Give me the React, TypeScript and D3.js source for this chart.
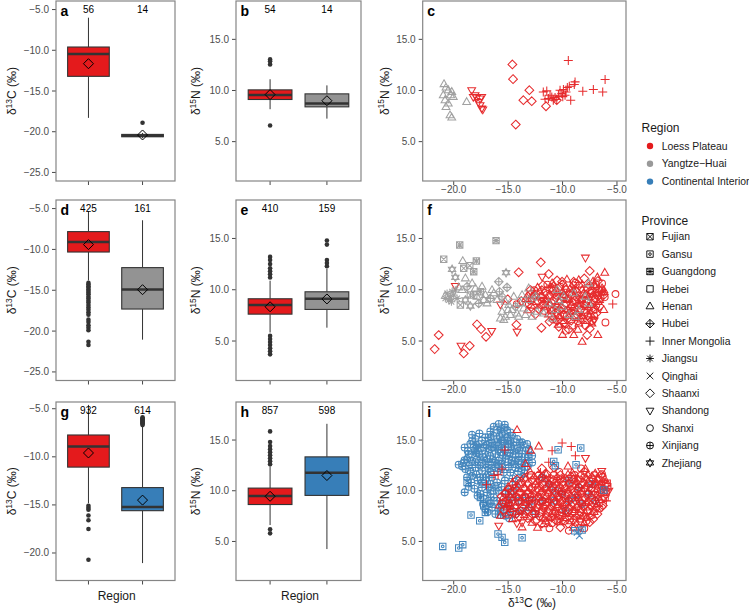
import React from 'react';
import * as d3 from 'd3';

const FONT = '"Liberation Sans", Arial, Helvetica, sans-serif';
const RED = '#E41A1C';
const GRAY = '#999999';
const BOXGRAY = '#939393';
const BLUE = '#377EB8';

// ---------- legend data ----------
const regionLabels = ['Loess Plateau', 'Yangtze\u2212Huai', 'Continental Interior'];
const regionColors = [RED, GRAY, BLUE];
const provinceLabels = ['Fujian', 'Gansu', 'Guangdong', 'Hebei', 'Henan', 'Hubei', 'Inner Mongolia', 'Jiangsu', 'Qinghai', 'Shaanxi', 'Shandong', 'Shanxi', 'Xinjiang', 'Zhejiang'];
const provinceCodes = ['FJ', 'GS', 'GD', 'HB', 'HN', 'HU', 'IM', 'JS', 'QH', 'SX', 'SD', 'SH', 'XJ', 'ZJ'];

// ---------- boxplot data (summary statistics) ----------
const boxGroupsTop = ['Loess Plateau', 'Yangtze-Huai'];
const boxGroupsBottom = ['Loess Plateau', 'Continental Interior'];

const boxA = [
  { n: 56, lo: -18.3, q1: -13.2, med: -10.45, q3: -9.6, hi: -6.0, mean: -11.65, out: [] as number[] },
  { n: 14, lo: -20.8, q1: -20.62, med: -20.48, q3: -20.33, hi: -20.15, mean: -20.4, out: [-18.9] },
];
const boxB = [
  { n: 54, lo: 8.17, q1: 9.12, med: 9.57, q3: 10.06, hi: 11.1, mean: 9.6, out: [13.04, 12.85, 12.55, 6.57] },
  { n: 14, lo: 7.25, q1: 8.4, med: 8.73, q3: 9.67, hi: 10.5, mean: 9.0, out: [] as number[] },
];
const boxD = [
  { n: 425, lo: -13.8, q1: -10.32, med: -9.09, q3: -7.82, hi: -5.3, mean: -9.41,
    out: [-14.1, -14.3, -14.5, -14.7, -14.9, -15.1, -15.3, -15.5, -15.8, -16.0, -16.3, -16.5, -16.8, -17.1, -17.4, -17.7, -18.0, -18.6, -18.9, -19.3, -19.6, -19.9, -21.3, -21.7] },
  { n: 161, lo: -21.05, q1: -17.3, med: -14.9, q3: -12.23, hi: -6.43, mean: -14.93, out: [] as number[] },
];
const boxE = [
  { n: 410, lo: 5.83, q1: 7.62, med: 8.5, q3: 9.12, hi: 10.88, mean: 8.34,
    out: [11.2, 11.5, 11.8, 12.1, 12.5, 12.9, 13.2, 5.5, 5.2, 4.9, 4.6, 4.3, 4.0, 3.7] },
  { n: 159, lo: 6.3, q1: 8.08, med: 9.12, q3: 9.8, hi: 12.05, mean: 9.1, out: [12.3, 12.6, 12.9, 14.4, 14.8] },
];
const boxG = [
  { n: 932, lo: -14.83, q1: -11.07, med: -8.93, q3: -7.73, hi: -4.6, mean: -9.6, out: [-15.1, -15.3, -15.5, -16.1, -16.6, -17.5, -20.7] },
  { n: 614, lo: -21.05, q1: -15.6, med: -15.22, q3: -13.2, hi: -6.83, mean: -14.5, out: [-5.9, -6.0, -6.1, -6.2, -6.3, -6.4, -6.5, -6.6, -6.7] },
];
const boxH = [
  { n: 857, lo: 6.62, q1: 8.64, med: 9.48, q3: 10.26, hi: 12.37, mean: 9.45,
    out: [12.6, 12.9, 13.2, 13.5, 13.8, 14.1, 14.4, 14.8, 15.85, 6.2, 5.8] },
  { n: 598, lo: 4.25, q1: 9.54, med: 11.78, q3: 13.34, hi: 16.6, mean: 11.5, out: [] as number[] },
];

// ---------- scatter data: [province code, d13C, d15N] ----------
type Pt = [string, number, number];

const cYangtze: Pt[] = [
  ['HN', -20.89, 10.62], ['HN', -20.71, 10.29], ['HN', -20.5, 10.03], ['HN', -20.18, 9.86], ['HN', -20.28, 9.54], ['HN', -20.96, 9.54],
  ['HN', -20.8, 9.05], ['HN', -20.5, 8.73], ['HN', -20.71, 8.39], ['HN', -20.34, 7.58], ['HN', -20.18, 7.35], ['HN', -18.81, 8.88], ['HN', -20.04, 9.37],
];
const cLoess: Pt[] = [
  ['SD', -18.35, 10.03], ['SD', -18.04, 9.54], ['SD', -17.89, 9.31], ['SD', -17.58, 9.22], ['SD', -17.74, 8.88], ['SD', -18.2, 9.37],
  ['SD', -17.58, 8.56], ['SD', -17.33, 8.14], ['SD', -17.43, 9.37], ['SD', -17.43, 8.24],
  ['SX', -14.61, 12.55], ['SX', -14.55, 11.11], ['SX', -13.05, 10.03], ['SX', -13.6, 9.05], ['SX', -12.83, 8.95], ['SX', -11.52, 8.46], ['SX', -14.3, 6.67], ['SX', -10.53, 9.05],
  ['IM', -9.47, 12.94], ['IM', -6.09, 11.08], ['IM', -7.17, 10.1], ['IM', -6.31, 9.86], ['IM', -8.14, 9.93], ['IM', -8.92, 10.59], ['IM', -8.85, 10.84],
  ['IM', -9.25, 9.05], ['IM', -11.77, 9.86], ['IM', -11.45, 9.96], ['IM', -11.15, 9.54], ['IM', -11.61, 9.15], ['IM', -10.99, 9.37], ['IM', -10.69, 9.31],
  ['IM', -10.38, 9.54], ['IM', -10.23, 10.03], ['IM', -9.92, 10.1], ['IM', -10.07, 9.7], ['IM', -9.77, 9.54], ['IM', -9.56, 10.29], ['IM', -9.68, 9.86],
  ['IM', -10.53, 9.12], ['IM', -10.85, 9.05], ['IM', -11.3, 9.22], ['IM', -9.98, 9.4], ['IM', -9.38, 10.42],
];

const fLoess: Pt[] = [
  ['SX', -21.38, 5.58], ['SX', -21.75, 4.21], ['SX', -19.08, 3.79], ['SX', -18.53, 4.53], ['SX', -17.86, 6.62], ['SX', -17.49, 6.16], ['SX', -17.03, 5.41],
  ['SX', -14.03, 11.7], ['SX', -12.0, 12.67], ['SX', -11.94, 6.29], ['SX', -11.27, 11.53], ['SX', -15.04, 9.06], ['SX', -14.24, 6.59], ['SX', -7.5, 11.83],
  ['SX', -6.76, 10.85], ['SX', -8.97, 10.78], ['SX', -10.04, 10.78], ['SX', -12.95, 9.97], ['SX', -9.43, 6.13], ['SX', -7.74, 5.58], ['SX', -10.35, 6.39],
  ['SD', -19.85, 10.36], ['SD', -19.33, 4.53], ['SD', -16.51, 5.97], ['SD', -15.71, 8.57], ['SD', -7.9, 13.13], ['SD', -14.18, 5.9], ['SD', -11.88, 11.27],
  ['HN', -6.12, 11.66], ['HN', -8.2, 4.93], ['HN', -8.97, 5.58], ['HN', -6.76, 5.58], ['HN', -10.96, 10.62], ['HN', -9.74, 10.3], ['HN', -8.51, 10.95],
  ['HN', -7.13, 10.46], ['HN', -6.37, 10.13], ['HN', -6.21, 8.02],
  ['SH', -5.14, 9.58], ['SH', -6.12, 9.26], ['SH', -6.06, 6.81], ['SH', -6.37, 10.62], ['IM', -5.39, 8.6],
  ['SX', -10.5, 10.9], ['HN', -9.6, 11.0], ['SH', -8.8, 10.7], ['SX', -8.0, 11.1], ['HN', -7.2, 10.8], ['SH', -11.4, 10.5], ['HN', -6.8, 11.2],
  ['HN', -12.3, 10.2], ['SX', -11.0, 10.2], ['SH', -10.2, 10.3], ['HN', -9.3, 10.1], ['SX', -8.5, 10.4], ['SH', -7.7, 10.2], ['HN', -7.0, 10.3], ['SX', -6.5, 9.9],
  ['SX', -12.9, 9.6], ['HN', -12.1, 9.8], ['SH', -11.6, 9.7], ['SX', -10.8, 9.6], ['HN', -10.0, 9.8], ['SH', -9.4, 9.6], ['SX', -8.7, 9.8], ['HN', -8.1, 9.6],
  ['SH', -7.4, 9.7], ['SX', -6.9, 9.5], ['HN', -6.4, 9.7], ['SH', -11.2, 10.0], ['HN', -9.0, 10.0],
  ['HN', -13.4, 9.1], ['SX', -12.7, 9.2], ['SH', -12.0, 9.3], ['HN', -11.4, 9.1], ['SX', -10.6, 9.2], ['SH', -10.0, 9.3], ['HN', -9.4, 9.1], ['SX', -8.8, 9.3],
  ['SH', -8.2, 9.1], ['HN', -7.6, 9.3], ['SX', -7.0, 9.1], ['SH', -6.5, 9.2], ['SD', -11.8, 8.9],
  ['SH', -13.1, 8.6], ['HN', -12.4, 8.8], ['SX', -11.7, 8.6], ['SH', -11.0, 8.7], ['HN', -10.3, 8.8], ['SX', -9.7, 8.6], ['SH', -9.1, 8.8], ['HN', -8.4, 8.6],
  ['SX', -7.8, 8.8], ['SH', -7.2, 8.6], ['HN', -6.7, 8.8], ['SX', -12.9, 8.3],
  ['SX', -12.2, 8.1], ['HN', -11.5, 8.3], ['SH', -10.8, 8.1], ['SX', -10.1, 8.3], ['HN', -9.5, 8.1], ['SH', -8.9, 8.3], ['SX', -8.3, 8.1], ['HN', -7.6, 8.3],
  ['SH', -7.0, 8.1], ['SX', -6.6, 8.4],
  ['HN', -11.3, 7.6], ['SX', -10.6, 7.8], ['SH', -9.9, 7.6], ['HN', -9.3, 7.8], ['SX', -8.7, 7.6], ['SH', -8.0, 7.8], ['HN', -7.4, 7.6], ['SX', -6.9, 7.7],
  ['SH', -10.9, 7.1], ['HN', -10.2, 7.3], ['SX', -9.6, 7.1], ['SH', -8.9, 7.3], ['HN', -8.3, 7.1], ['SX', -7.6, 7.3], ['SD', -7.1, 7.0],
  ['HN', -10.4, 6.6], ['SX', -9.8, 6.8], ['SH', -9.1, 6.5], ['HN', -8.5, 6.7], ['SX', -7.9, 6.5], ['HN', -7.3, 6.7], ['SX', -11.2, 6.9],
  ['SH', -9.7, 6.0], ['HN', -8.6, 6.1], ['SX', -7.5, 6.2], ['HN', -10.0, 5.6],
  ['SX', -13.8, 8.9], ['SH', -14.2, 8.6], ['HN', -13.2, 8.0], ['SX', -12.5, 7.6],
  ['SX', -10.3, 9.5], ['HN', -9.7, 9.0], ['SH', -9.1, 8.4], ['SX', -8.5, 9.0], ['HN', -7.9, 8.5], ['SH', -10.6, 8.4], ['SX', -9.2, 7.9], ['HN', -8.1, 7.4],
  ['SH', -7.3, 9.9], ['SX', -10.9, 9.9],
  ['SX', -11.8, 10.45], ['HN', -10.8, 10.45], ['SX', -10.0, 10.5], ['SH', -9.0, 10.45], ['HN', -8.2, 10.5], ['SX', -7.5, 10.4], ['SH', -6.9, 10.5],
  ['SH', -12.6, 9.95], ['SX', -11.9, 9.95], ['HN', -10.5, 9.95], ['SX', -9.7, 10.0], ['SH', -8.8, 9.95], ['HN', -8.2, 10.0], ['SX', -7.4, 9.95], ['SH', -6.7, 10.0], ['HN', -6.2, 9.95],
  ['HN', -13.2, 9.45], ['SX', -12.5, 9.45], ['HN', -11.9, 9.5], ['SX', -11.2, 9.45], ['SH', -10.5, 9.45], ['HN', -9.9, 9.5], ['SX', -9.2, 9.45], ['SH', -8.5, 9.45],
  ['HN', -7.9, 9.5], ['SX', -7.2, 9.45], ['SH', -6.7, 9.45], ['SX', -6.2, 9.5],
  ['SX', -13.0, 8.95], ['SH', -12.3, 8.95], ['HN', -11.6, 9.0], ['SX', -10.9, 8.95], ['SH', -10.2, 8.95], ['HN', -9.5, 9.0], ['SX', -8.9, 8.95], ['SH', -8.3, 8.95],
  ['HN', -7.7, 9.0], ['SX', -7.1, 8.95], ['HN', -6.6, 9.0],
  ['HN', -12.6, 8.45], ['SX', -11.9, 8.45], ['SH', -11.2, 8.5], ['HN', -10.5, 8.45], ['SX', -9.8, 8.45], ['HN', -9.2, 8.5], ['SH', -8.6, 8.45], ['SX', -8.0, 8.45],
  ['HN', -7.4, 8.5], ['SH', -6.9, 8.45],
  ['SH', -11.7, 7.95], ['HN', -11.0, 7.95], ['SX', -10.3, 8.0], ['HN', -9.7, 7.95], ['SH', -9.0, 7.95], ['SX', -8.4, 8.0], ['HN', -7.8, 7.95], ['SH', -7.2, 7.95],
  ['SX', -11.0, 7.45], ['HN', -10.3, 7.45], ['SH', -9.6, 7.5], ['SX', -8.9, 7.45], ['HN', -8.3, 7.45], ['SX', -7.7, 7.5], ['SH', -7.1, 7.45],
  ['SX', -10.5, 6.95], ['HN', -9.9, 6.95], ['SX', -9.2, 7.0], ['SH', -8.6, 6.95], ['HN', -7.9, 6.95], ['SX', -7.3, 7.0],
];

const fYangtze: Pt[] = [
  ['GD', -19.45, 14.37], ['GD', -16.11, 14.79], ['FJ', -20.92, 12.97], ['GD', -17.92, 12.8], ['FJ', -19.08, 12.09], ['FJ', -18.53, 12.35], ['GD', -18.16, 11.76],
  ['FJ', -19.39, 8.51], ['GS', -18.16, 9.48], ['ZJ', -20.15, 11.99], ['ZJ', -19.85, 11.21], ['ZJ', -15.19, 11.66], ['ZJ', -18.47, 8.41],
  ['HU', -17.7, 8.67], ['HU', -15.86, 10.78], ['HU', -15.8, 9.81], ['HU', -15.1, 10.23],
  ['HN', -19.17, 12.8], ['HN', -18.93, 11.11], ['HN', -20.77, 9.42], ['HN', -19.54, 10.23], ['HN', -18.31, 10.62], ['HN', -17.4, 10.3], ['HN', -16.94, 8.67],
  ['HN', -16.48, 9.97], ['HN', -15.4, 7.04], ['HN', -15.01, 8.02], ['HN', -14.48, 9.32], ['HN', -13.72, 9.48], ['HN', -13.11, 10.13], ['HN', -12.8, 7.37],
  ['HN', -14.18, 7.69], ['HN', -15.56, 7.85], ['HN', -12.34, 7.85], ['HN', -11.73, 7.69], ['HN', -10.96, 7.2], ['HN', -10.5, 9.97], ['HN', -10.35, 9.0],
  ['HN', -10.66, 8.02], ['HN', -10.04, 8.34], ['HN', -8.97, 9.65], ['HN', -8.51, 8.02], ['HN', -8.82, 7.37], ['HN', -7.9, 9.32], ['HN', -7.59, 8.67],
  ['HN', -9.43, 7.53], ['HN', -7.59, 10.62], ['HN', -11.27, 8.67], ['HN', -9.89, 9.32],
  ['JS', -20.61, 9.65], ['JS', -20.31, 9.32], ['JS', -20.46, 9.0], ['JS', -20.0, 9.48], ['JS', -20.77, 9.16], ['JS', -20.15, 9.81], ['JS', -19.69, 9.16],
  ['JS', -19.85, 9.97], ['JS', -20.21, 8.83],
  ['HN', -19.23, 9.97], ['HU', -18.77, 10.3], ['HN', -18.01, 10.13], ['GD', -17.55, 9.81], ['HN', -17.09, 9.48], ['HU', -16.63, 9.16], ['HN', -16.32, 9.65],
  ['HN', -16.02, 9.0], ['HU', -15.56, 9.32], ['HN', -15.25, 8.83], ['HN', -14.94, 8.51], ['HN', -14.64, 8.02], ['HU', -14.33, 8.34], ['HN', -13.87, 8.67],
  ['HN', -13.57, 8.18], ['HN', -15.25, 7.37], ['HN', -14.79, 7.53], ['HN', -15.71, 7.2], ['HN', -14.03, 7.37], ['HN', -13.41, 7.53], ['HN', -13.11, 9.0],
  ['HU', -12.49, 9.32], ['FJ', -18.47, 9.48], ['HN', -17.86, 9.32], ['ZJ', -18.93, 9.0], ['HN', -17.24, 9.0],
];

const iContinental: Pt[] = [
  ['XJ', -15.86, 16.58], ['XJ', -15.31, 16.51], ['XJ', -16.32, 16.31], ['XJ', -15.62, 16.08], ['XJ', -16.63, 15.85], ['XJ', -15.1, 15.98], ['XJ', -14.79, 15.75],
  ['XJ', -18.31, 15.52], ['XJ', -17.64, 15.65], ['XJ', -18.01, 15.1], ['XJ', -18.47, 14.6], ['XJ', -18.99, 14.27], ['XJ', -18.16, 14.27], ['XJ', -17.7, 14.6],
  ['XJ', -17.4, 13.95], ['XJ', -18.62, 13.62],
  ['XJ', -19.54, 12.56], ['XJ', -19.08, 12.79], ['XJ', -18.77, 13.12], ['XJ', -18.31, 12.96], ['XJ', -17.86, 13.12], ['XJ', -18.93, 12.14], ['XJ', -18.47, 11.97],
  ['XJ', -18.01, 12.3], ['XJ', -17.55, 12.47], ['XJ', -18.77, 11.32], ['XJ', -18.38, 10.82], ['XJ', -18.62, 10.39], ['XJ', -18.99, 9.84], ['XJ', -18.31, 11.48],
  ['XJ', -17.09, 15.26], ['XJ', -16.78, 14.93], ['XJ', -16.32, 15.42], ['XJ', -16.02, 15.1], ['XJ', -15.56, 15.59], ['XJ', -15.1, 15.26], ['XJ', -14.64, 15.42],
  ['XJ', -14.18, 15.1], ['XJ', -13.72, 14.77], ['XJ', -13.26, 14.6], ['XJ', -13.11, 14.11], ['XJ', -13.87, 14.27], ['XJ', -14.49, 14.44], ['XJ', -14.94, 14.6],
  ['XJ', -15.4, 14.77], ['XJ', -15.86, 14.44], ['XJ', -16.32, 14.27], ['XJ', -16.78, 14.11], ['XJ', -17.09, 13.62], ['XJ', -16.63, 13.45], ['XJ', -16.17, 13.62],
  ['XJ', -15.71, 13.78], ['XJ', -15.25, 13.95], ['XJ', -14.79, 13.78], ['XJ', -14.33, 13.62], ['XJ', -13.72, 13.62], ['XJ', -13.11, 13.29], ['XJ', -12.8, 12.79],
  ['XJ', -13.41, 12.79], ['XJ', -14.03, 12.96], ['XJ', -14.64, 12.96], ['XJ', -15.25, 13.12], ['XJ', -15.86, 12.96], ['XJ', -16.48, 12.79], ['XJ', -17.09, 12.63],
  ['XJ', -17.4, 11.97], ['XJ', -16.78, 12.14], ['XJ', -16.17, 12.3], ['XJ', -15.56, 12.3], ['XJ', -14.94, 12.3], ['XJ', -14.33, 12.3], ['XJ', -13.72, 12.14],
  ['XJ', -17.4, 14.93], ['XJ', -17.24, 14.27], ['XJ', -17.7, 13.62], ['XJ', -18.01, 14.11], ['XJ', -16.48, 14.77], ['XJ', -14.79, 14.93], ['XJ', -15.56, 14.27],
  ['XJ', -14.18, 14.11], ['XJ', -15.1, 13.45], ['XJ', -16.02, 12.63], ['XJ', -14.49, 12.63], ['XJ', -13.41, 13.95], ['XJ', -12.8, 13.45],
  ['XJ', -17.55, 11.32], ['XJ', -17.09, 10.99], ['XJ', -16.63, 10.66], ['XJ', -17.4, 10.33], ['XJ', -16.94, 9.84], ['XJ', -17.24, 9.18], ['XJ', -16.78, 9.01],
  ['XJ', -16.48, 8.36], ['XJ', -17.09, 8.19], ['XJ', -16.17, 7.7], ['XJ', -15.71, 8.03], ['XJ', -15.25, 7.53], ['XJ', -14.79, 8.19], ['XJ', -14.33, 7.7],
  ['XJ', -13.72, 8.03], ['XJ', -13.11, 8.36], ['XJ', -12.49, 7.7], ['XJ', -17.55, 9.67], ['XJ', -15.86, 10.0], ['XJ', -15.25, 9.67], ['XJ', -14.64, 9.34],
  ['XJ', -14.03, 9.01], ['XJ', -13.41, 9.34], ['XJ', -12.8, 9.01], ['XJ', -16.32, 9.34], ['XJ', -15.56, 8.69], ['XJ', -14.94, 8.85],
  ['XJ', -17.09, 11.65], ['XJ', -16.48, 11.32], ['XJ', -16.02, 10.82], ['XJ', -16.78, 10.33], ['XJ', -17.4, 10.82], ['XJ', -16.32, 10.0],
  ['XJ', -11.88, 11.32], ['XJ', -11.27, 10.66], ['XJ', -10.66, 10.0], ['XJ', -10.04, 9.67], ['XJ', -9.43, 9.01], ['XJ', -8.82, 9.34], ['XJ', -8.2, 8.69],
  ['XJ', -7.59, 9.67], ['XJ', -6.98, 9.01], ['XJ', -10.81, 9.01], ['XJ', -9.74, 8.03], ['XJ', -8.51, 10.33], ['XJ', -7.29, 10.66], ['XJ', -11.88, 9.01], ['XJ', -9.43, 10.99],
  ['XJ', -16.0, 16.0], ['XJ', -15.3, 16.2], ['XJ', -15.8, 15.4], ['XJ', -16.6, 15.3], ['XJ', -16.0, 14.8], ['XJ', -15.6, 14.95], ['XJ', -15.0, 14.95], ['XJ', -14.5, 14.8],
  ['XJ', -13.9, 14.7], ['XJ', -17.0, 14.5], ['XJ', -16.5, 14.3], ['XJ', -15.9, 14.1], ['XJ', -15.3, 14.3], ['XJ', -14.7, 14.3], ['XJ', -14.0, 13.95], ['XJ', -13.5, 13.3],
  ['XJ', -14.0, 13.4], ['XJ', -14.6, 13.35], ['XJ', -15.5, 13.5], ['XJ', -16.4, 13.1], ['XJ', -16.9, 13.1], ['XJ', -17.3, 13.3], ['XJ', -17.9, 13.7], ['XJ', -18.3, 13.6],
  ['XJ', -18.7, 13.9], ['XJ', -18.3, 14.9], ['XJ', -17.9, 14.5], ['XJ', -19.0, 13.0], ['XJ', -19.2, 12.4], ['XJ', -18.6, 12.5], ['XJ', -18.0, 12.8], ['XJ', -17.4, 12.8],
  ['XJ', -16.8, 12.6], ['XJ', -16.2, 12.8], ['XJ', -15.6, 12.7], ['XJ', -15.0, 12.8], ['XJ', -14.4, 12.9], ['XJ', -13.8, 12.6], ['XJ', -13.2, 12.4], ['XJ', -17.9, 11.6],
  ['XJ', -17.8, 11.0], ['XJ', -17.0, 11.3], ['XJ', -16.6, 11.9], ['XJ', -16.0, 11.9], ['XJ', -15.4, 11.8], ['XJ', -14.8, 11.8], ['XJ', -14.1, 11.9], ['XJ', -13.5, 11.7],
  ['XJ', -18.1, 10.2], ['XJ', -17.8, 9.5], ['XJ', -17.3, 8.7], ['XJ', -16.6, 8.8], ['XJ', -16.6, 9.7], ['XJ', -16.0, 9.0], ['XJ', -15.9, 8.3], ['XJ', -15.4, 8.2],
  ['XJ', -15.6, 10.4], ['XJ', -15.0, 10.2], ['XJ', -14.5, 10.0], ['XJ', -15.3, 11.0], ['XJ', -14.6, 11.2], ['XJ', -16.2, 10.5], ['XJ', -14.3, 10.6], ['XJ', -13.9, 11.3],
  ['XJ', -16.9, 7.9], ['XJ', -15.7, 7.6], ['XJ', -14.9, 7.3],
];

const iLoess: Pt[] = [
  ['HN', -13.0, 11.9], ['SX', -11.5, 11.7], ['SH', -10.3, 11.85], ['HN', -9.1, 11.75], ['SX', -8.0, 11.9], ['HN', -7.0, 11.7], ['SD', -6.4, 11.95],
  ['SX', -13.5, 11.25], ['HN', -12.6, 11.4], ['SH', -11.9, 11.3], ['SX', -11.1, 11.2], ['HN', -10.5, 11.35], ['SH', -9.8, 11.25], ['SX', -9.2, 11.4],
  ['HN', -8.6, 11.2], ['SH', -8.0, 11.35], ['SX', -7.3, 11.3], ['HN', -6.8, 11.2], ['SH', -6.3, 11.4],
  ['HN', -14.6, 10.8], ['SX', -13.8, 10.9], ['SH', -13.1, 10.75], ['HN', -12.4, 10.9], ['SX', -11.8, 10.8], ['SH', -11.1, 10.95], ['HN', -10.5, 10.8],
  ['SX', -9.9, 10.9], ['SH', -9.3, 10.75], ['HN', -8.7, 10.9], ['SX', -8.1, 10.8], ['SH', -7.5, 10.95], ['HN', -6.9, 10.8], ['SX', -6.3, 10.9], ['HB', -5.9, 10.75],
  ['HN', -15.0, 10.35], ['SX', -14.2, 10.45], ['HN', -13.5, 10.3], ['SH', -12.8, 10.4], ['SX', -12.1, 10.5], ['HN', -11.5, 10.35], ['SH', -10.9, 10.45],
  ['SX', -10.3, 10.3], ['HN', -9.7, 10.4], ['SH', -9.1, 10.5], ['SX', -8.5, 10.35], ['HN', -7.9, 10.45], ['SH', -7.3, 10.3], ['SX', -6.7, 10.4], ['SH', -6.1, 10.5],
  ['HN', -15.3, 9.9], ['SX', -14.6, 10.0], ['SH', -13.9, 9.85], ['HN', -13.2, 9.95], ['SX', -12.5, 10.05], ['SH', -11.9, 9.9], ['HN', -11.3, 10.0],
  ['SX', -10.7, 9.85], ['SH', -10.1, 9.95], ['HN', -9.5, 10.05], ['SX', -8.9, 9.9], ['SH', -8.3, 10.0], ['HN', -7.7, 9.85], ['SX', -7.1, 9.95], ['SH', -6.5, 10.05], ['HB', -6.0, 9.9],
  ['SX', -15.6, 9.45], ['HN', -14.9, 9.55], ['SH', -14.2, 9.4], ['SX', -13.5, 9.5], ['HN', -12.9, 9.6], ['SH', -12.2, 9.45], ['SX', -11.6, 9.55], ['HN', -11.0, 9.4],
  ['SH', -10.4, 9.5], ['SX', -9.8, 9.6], ['HN', -9.2, 9.45], ['SH', -8.6, 9.55], ['SX', -8.0, 9.4], ['HN', -7.4, 9.5], ['SH', -6.8, 9.6], ['SX', -6.2, 9.45],
  ['HN', -15.2, 9.0], ['SX', -14.5, 9.1], ['SH', -13.8, 8.95], ['HN', -13.1, 9.05], ['SX', -12.4, 9.15], ['SH', -11.8, 9.0], ['HN', -11.2, 9.1], ['SX', -10.6, 8.95],
  ['SH', -10.0, 9.05], ['HN', -9.4, 9.15], ['SX', -8.8, 9.0], ['SH', -8.2, 9.1], ['HN', -7.6, 8.95], ['SX', -7.0, 9.05], ['SH', -6.4, 9.15],
  ['HN', -15.8, 8.55], ['SH', -15.0, 8.65], ['HN', -14.3, 8.5], ['SX', -13.6, 8.6], ['SH', -12.9, 8.7], ['HN', -12.2, 8.55], ['SX', -11.6, 8.65], ['SH', -11.0, 8.5],
  ['HN', -10.4, 8.6], ['SX', -9.8, 8.7], ['SH', -9.2, 8.55], ['HN', -8.6, 8.65], ['SX', -8.0, 8.5], ['SH', -7.4, 8.6], ['HN', -6.8, 8.7], ['SX', -6.3, 8.55],
  ['SX', -15.4, 8.1], ['HN', -14.6, 8.2], ['SH', -13.9, 8.05], ['SX', -13.2, 8.15], ['HN', -12.5, 8.25], ['SH', -11.9, 8.1], ['SX', -11.3, 8.2], ['HN', -10.7, 8.05],
  ['SH', -10.1, 8.15], ['SX', -9.5, 8.25], ['HN', -8.9, 8.1], ['SH', -8.3, 8.2], ['SX', -7.7, 8.05], ['HN', -7.1, 8.15], ['SH', -6.6, 8.25],
  ['HN', -15.0, 7.65], ['SX', -14.2, 7.75], ['HN', -13.5, 7.6], ['SH', -12.8, 7.7], ['SX', -12.1, 7.8], ['HN', -11.5, 7.65], ['SH', -10.9, 7.75], ['SX', -10.3, 7.6],
  ['HN', -9.7, 7.7], ['SH', -9.1, 7.8], ['SX', -8.5, 7.65], ['HN', -7.9, 7.75], ['SH', -7.3, 7.6], ['SX', -6.8, 7.7],
  ['HN', -14.6, 7.2], ['SX', -13.2, 7.3], ['SH', -12.4, 7.15], ['HN', -11.7, 7.25], ['SX', -11.0, 7.35], ['SH', -10.3, 7.2], ['HN', -9.7, 7.3], ['SX', -9.0, 7.15],
  ['SH', -8.4, 7.25], ['HN', -7.8, 7.35], ['SX', -7.2, 7.2],
  ['SD', -14.2, 6.8], ['HN', -12.8, 6.85], ['SX', -11.9, 6.75], ['SH', -11.0, 6.8], ['HN', -10.3, 6.9], ['SX', -9.5, 6.75], ['SH', -8.8, 6.85], ['HN', -8.0, 6.8], ['SX', -7.5, 6.9],
  ['HN', -12.3, 6.35], ['SH', -11.2, 6.3], ['SX', -10.2, 6.4], ['HN', -9.0, 6.35], ['SH', -8.0, 6.3],
  ['SX', -10.8, 12.3], ['HN', -9.5, 12.4], ['SH', -8.3, 12.2], ['SX', -11.9, 12.2],
  ['SH', -12.9, 11.55], ['SX', -12.2, 11.55], ['HN', -11.5, 11.6], ['SH', -10.8, 11.55], ['SX', -10.2, 11.55], ['HN', -9.5, 11.6], ['SH', -8.9, 11.55],
  ['SX', -8.3, 11.55], ['HN', -7.7, 11.6], ['SH', -7.1, 11.55], ['SX', -6.5, 11.55],
  ['SX', -14.2, 11.1], ['HN', -13.4, 11.1], ['SX', -12.8, 11.05], ['SH', -12.1, 11.1], ['HN', -11.5, 11.1], ['SX', -10.8, 11.05], ['SH', -10.2, 11.1], ['HN', -9.6, 11.1],
  ['SX', -9.0, 11.05], ['SH', -8.4, 11.1], ['HN', -7.8, 11.1], ['SX', -7.2, 11.05], ['SH', -6.6, 11.1], ['HN', -6.1, 11.1],
  ['SH', -14.6, 10.6], ['HN', -13.9, 10.6], ['SX', -13.2, 10.65], ['HN', -12.5, 10.6], ['SH', -11.8, 10.6], ['SX', -11.2, 10.65], ['HN', -10.6, 10.6], ['SH', -10.0, 10.6],
  ['SX', -9.4, 10.65], ['HN', -8.8, 10.6], ['SH', -8.2, 10.6], ['SX', -7.6, 10.65], ['HN', -7.0, 10.6], ['SH', -6.4, 10.6], ['SX', -6.0, 10.65],
  ['SX', -14.9, 10.15], ['HN', -14.2, 10.15], ['SH', -13.6, 10.2], ['SX', -12.9, 10.15], ['HN', -12.2, 10.15], ['SH', -11.6, 10.2], ['SX', -11.0, 10.15], ['HN', -10.4, 10.15],
  ['SH', -9.8, 10.2], ['SX', -9.2, 10.15], ['HN', -8.6, 10.15], ['SH', -8.0, 10.2], ['SX', -7.4, 10.15], ['HN', -6.8, 10.15], ['SX', -6.3, 10.2],
  ['SH', -15.3, 9.7], ['HN', -14.6, 9.7], ['SX', -13.9, 9.75], ['SH', -13.2, 9.7], ['HN', -12.6, 9.7], ['SX', -11.9, 9.75], ['SH', -11.3, 9.7], ['HN', -10.7, 9.7],
  ['SX', -10.1, 9.75], ['SH', -9.5, 9.7], ['HN', -8.9, 9.7], ['SX', -8.3, 9.75], ['SH', -7.7, 9.7], ['HN', -7.1, 9.7], ['SX', -6.5, 9.75], ['SH', -6.0, 9.7],
  ['HN', -15.5, 9.25], ['SX', -14.8, 9.25], ['HN', -14.1, 9.3], ['SH', -13.4, 9.25], ['SX', -12.8, 9.25], ['HN', -12.1, 9.3], ['SH', -11.5, 9.25], ['SX', -10.9, 9.25],
  ['HN', -10.3, 9.3], ['SH', -9.7, 9.25], ['SX', -9.1, 9.25], ['HN', -8.5, 9.3], ['SH', -7.9, 9.25], ['SX', -7.3, 9.25], ['HN', -6.7, 9.3], ['SH', -6.1, 9.25],
  ['SX', -15.5, 8.8], ['HN', -14.8, 8.8], ['SH', -14.1, 8.85], ['HN', -13.4, 8.8], ['SX', -12.7, 8.8], ['SH', -12.0, 8.85], ['HN', -11.4, 8.8], ['SX', -10.8, 8.8],
  ['SH', -10.2, 8.85], ['HN', -9.6, 8.8], ['SX', -9.0, 8.8], ['SH', -8.4, 8.85], ['HN', -7.8, 8.8], ['SX', -7.2, 8.8], ['SH', -6.6, 8.85],
  ['HN', -15.1, 8.35], ['SH', -14.4, 8.35], ['SX', -13.7, 8.4], ['HN', -13.0, 8.35], ['SH', -12.3, 8.35], ['SX', -11.7, 8.4], ['HN', -11.1, 8.35], ['SH', -10.5, 8.35],
  ['SX', -9.9, 8.4], ['HN', -9.3, 8.35], ['SH', -8.7, 8.35], ['SX', -8.1, 8.4], ['HN', -7.5, 8.35], ['SH', -6.9, 8.35], ['SX', -6.4, 8.4],
  ['SH', -14.8, 7.9], ['HN', -14.0, 7.9], ['SX', -13.3, 7.95], ['HN', -12.6, 7.9], ['SH', -11.9, 7.9], ['SX', -11.3, 7.95], ['HN', -10.7, 7.9], ['SH', -10.1, 7.9],
  ['SX', -9.5, 7.95], ['HN', -8.9, 7.9], ['SH', -8.3, 7.9], ['SX', -7.7, 7.95], ['HN', -7.1, 7.9],
  ['SX', -14.0, 7.45], ['HN', -13.0, 7.45], ['SH', -12.1, 7.5], ['SX', -11.4, 7.45], ['HN', -10.7, 7.45], ['SX', -10.0, 7.5], ['SH', -9.4, 7.45], ['HN', -8.7, 7.45],
  ['SX', -8.1, 7.5], ['SH', -7.5, 7.45],
  ['SX', -12.5, 7.0], ['HN', -11.5, 7.0], ['SX', -10.6, 7.05], ['SH', -9.9, 7.0], ['HN', -9.2, 7.0], ['SX', -8.4, 7.05], ['SH', -7.8, 7.0],
  ['IM', -10.04, 14.7], ['IM', -9.2, 14.37], ['IM', -10.96, 13.95], ['IM', -8.82, 13.45], ['IM', -11.27, 12.8], ['IM', -15.31, 14.01], ['IM', -15.56, 12.14],
  ['IM', -16.99, 10.59], ['IM', -15.92, 11.58], ['IM', -5.97, 9.0], ['IM', -12.03, 11.81], ['IM', -16.3, 11.5],
  ['HN', -14.18, 15.98], ['HN', -12.19, 14.37], ['HN', -12.95, 13.95], ['HN', -13.41, 12.63], ['HN', -13.72, 6.39], ['HN', -11.73, 6.71], ['HN', -15.71, 7.53],
  ['HN', -7.9, 12.14], ['HN', -15.1, 8.68],
  ['SD', -7.9, 13.22], ['SD', -15.86, 6.55], ['SD', -13.72, 6.88], ['SD', -8.36, 6.39], ['SD', -5.75, 10.0],
  ['HB', -5.85, 10.4], ['HB', -6.21, 9.84], ['SH', -9.43, 6.06], ['SH', -6.37, 11.64],
];

const iContinentalTop: Pt[] = [
  ['GS', -21.01, 4.51], ['GS', -19.54, 4.35], ['GS', -19.17, 4.68], ['GS', -18.41, 7.6], ['GS', -17.61, 7.04], ['GS', -15.93, 5.73], ['GS', -15.56, 5.4],
  ['GS', -15.31, 4.91], ['GS', -13.72, 5.37], ['GS', -10.41, 14.04], ['GS', -8.33, 14.21], ['GS', -8.76, 12.56], ['GS', -10.81, 12.89], ['GS', -8.88, 6.06],
  ['GS', -8.2, 6.12], ['GS', -6.21, 10.07], ['GS', -17.55, 9.34], ['GS', -17.24, 8.52], ['GS', -18.77, 10.82], ['GS', -17.09, 7.86], ['GS', -10.66, 12.47],
  ['QH', -8.45, 5.56], ['QH', -8.66, 5.89],
];

// ---------- layout ----------
const COLS = [{ x0: 56, x1: 175 }, { x0: 236, x1: 361 }, { x0: 422.7, x1: 626 }];
const ROWS = [{ y0: 1, y1: 181 }, { y0: 200, y1: 380.5 }, { y0: 402, y1: 580.5 }];
const C_DOMAIN_TOP: [number, number] = [-26.05, -3.95];
const C_DOMAIN_BOTTOM: [number, number] = [-22.86, -4.3];
const N_DOMAIN: [number, number] = [1.15, 18.75];
const X_DOMAIN: [number, number] = [-22.85, -4.17];
const C_TICKS_TOP = [-25, -20, -15, -10, -5];
const C_TICKS_BOTTOM = [-20, -15, -10, -5];
const N_TICKS = [5, 10, 15];
const X_TICKS = [-20, -15, -10, -5];

const fmt = d3.format('.1f');

function circ(x: number, y: number, r: number) {
  return `M${x + r},${y}A${r},${r} 0 1 0 ${x - r},${y}A${r},${r} 0 1 0 ${x + r},${y}Z`;
}
function sq(x: number, y: number, h: number) {
  return `M${x - h},${y - h}H${x + h}V${y + h}H${x - h}Z`;
}
function plus(x: number, y: number, h: number) {
  return `M${x - h},${y}H${x + h}M${x},${y - h}V${y + h}`;
}
function cross(x: number, y: number, h: number) {
  return `M${x - h},${y - h}L${x + h},${y + h}M${x - h},${y + h}L${x + h},${y - h}`;
}
function diam(x: number, y: number, h: number) {
  return `M${x},${y - h}L${x + h},${y}L${x},${y + h}L${x - h},${y}Z`;
}
function shapePath(code: string, x: number, y: number): string {
  switch (code) {
    case 'SH': return circ(x, y, 3.4);
    case 'HB': return sq(x, y, 3.2);
    case 'HN': return `M${x},${y - 4.3}L${x + 3.9},${y + 2.5}L${x - 3.9},${y + 2.5}Z`;
    case 'SD': return `M${x},${y + 4.3}L${x + 3.9},${y - 2.5}L${x - 3.9},${y - 2.5}Z`;
    case 'SX': return diam(x, y, 4.4);
    case 'IM': return plus(x, y, 4.5);
    case 'QH': return cross(x, y, 3.3);
    case 'JS': return plus(x, y, 3.9) + cross(x, y, 2.8);
    case 'HU': return diam(x, y, 4.3) + plus(x, y, 4.3);
    case 'XJ': return circ(x, y, 3.5) + plus(x, y, 3.5);
    case 'GS': return sq(x, y, 3.2) + circ(x, y, 1.3);
    case 'FJ': return sq(x, y, 3.2) + cross(x, y, 3.2);
    case 'GD': return sq(x, y, 3.2) + cross(x, y, 3.2) + plus(x, y, 3.2);
    case 'ZJ': return `M${x},${y - 4.2}L${x + 3.7},${y + 2.1}L${x - 3.7},${y + 2.1}Z` + `M${x},${y + 4.2}L${x + 3.7},${y - 2.1}L${x - 3.7},${y - 2.1}Z`;
    default: return circ(x, y, 3);
  }
}

const tickText = { fontFamily: FONT, fontSize: 10, fill: '#4d4d4d' } as const;

function YAxis({ x0, scale, ticks }: { x0: number; scale: d3.ScaleLinear<number, number>; ticks: number[] }) {
  return (
    <g>
      {ticks.map((t) => (
        <g key={t}>
          <line x1={x0 - 4} x2={x0} y1={scale(t)} y2={scale(t)} stroke="#333" strokeWidth={0.9} />
          <text x={x0 - 7} y={scale(t)} dy="0.35em" textAnchor="end" {...tickText}>{fmt(t)}</text>
        </g>
      ))}
    </g>
  );
}

function YTitle({ cx, cy, iso }: { cx: number; cy: number; iso: string }) {
  return (
    <text transform={`translate(${cx},${cy}) rotate(-90)`} textAnchor="middle" dy="0.35em" fontFamily={FONT} fontSize={12} fill="#1a1a1a">
      <tspan>δ</tspan>
      <tspan dy={-4.5} fontSize={8.5}>{iso}</tspan>
      <tspan dy={4.5}>{iso === '13' ? 'C' : 'N'} (‰)</tspan>
    </text>
  );
}

type BoxStat = { n: number; lo: number; q1: number; med: number; q3: number; hi: number; mean: number; out: number[] };

function BoxPanel({ col, row, data, groups, colors, domain, ticks, letter, iso }: {
  col: number; row: number; data: BoxStat[]; groups: string[]; colors: string[]; domain: [number, number]; ticks: number[]; letter: string; iso: string;
}) {
  const { x0, x1 } = COLS[col];
  const { y0, y1 } = ROWS[row];
  const xs = d3.scalePoint<string>().domain(groups).range([x0, x1]).padding(0.6);
  const ys = d3.scaleLinear().domain(domain).range([y1, y0]);
  const bw = xs.step() * 0.77;
  return (
    <g>
      <YAxis x0={x0} scale={ys} ticks={ticks} />
      <YTitle cx={col === 0 ? 12 : 196} cy={(y0 + y1) / 2} iso={iso} />
      {groups.map((g) => (
        <line key={g} x1={xs(g)} x2={xs(g)} y1={y1} y2={y1 + 4} stroke="#333" strokeWidth={0.9} />
      ))}
      {data.map((b, i) => {
        const cx = xs(groups[i]) as number;
        const h = bw / 2;
        return (
          <g key={i}>
            <line x1={cx} x2={cx} y1={ys(b.hi)} y2={ys(b.q3)} stroke="#333" strokeWidth={1} />
            <line x1={cx} x2={cx} y1={ys(b.q1)} y2={ys(b.lo)} stroke="#333" strokeWidth={1} />
            <rect x={cx - h} y={ys(b.q3)} width={bw} height={ys(b.q1) - ys(b.q3)} fill={colors[i]} stroke="#333" strokeWidth={1.1} />
            <line x1={cx - h} x2={cx + h} y1={ys(b.med)} y2={ys(b.med)} stroke="#333" strokeWidth={2.5} />
            {b.out.map((o, k) => (
              <circle key={k} cx={cx} cy={ys(o)} r={2.3} fill="#333" />
            ))}
            <path d={diam(cx, ys(b.mean), 5)} fill="none" stroke="#000" strokeWidth={1} />
            <text x={cx} y={y0 + 8} dy="0.35em" textAnchor="middle" fontFamily={FONT} fontSize={10} fill="#000">{b.n}</text>
          </g>
        );
      })}
      <rect x={x0} y={y0} width={x1 - x0} height={y1 - y0} fill="none" stroke="#858585" strokeWidth={1.2} />
      <text x={x0 + 4.5} y={y0 + 14.5} fontFamily={FONT} fontSize={14} fontWeight="bold" fill="#000">{letter}</text>
    </g>
  );
}

function ScatterPanel({ row, layers, letter }: { row: number; layers: { pts: Pt[]; color: string }[]; letter: string }) {
  const { x0, x1 } = COLS[2];
  const { y0, y1 } = ROWS[row];
  const xs = d3.scaleLinear().domain(X_DOMAIN).range([x0, x1]);
  const ys = d3.scaleLinear().domain(N_DOMAIN).range([y1, y0]);
  const clipId = `clip-${letter}`;
  return (
    <g>
      <defs>
        <clipPath id={clipId}><rect x={x0} y={y0} width={x1 - x0} height={y1 - y0} /></clipPath>
      </defs>
      <YAxis x0={x0} scale={ys} ticks={N_TICKS} />
      <YTitle cx={384.5} cy={(y0 + y1) / 2} iso="15" />
      {X_TICKS.map((t) => (
        <g key={t}>
          <line x1={xs(t)} x2={xs(t)} y1={y1} y2={y1 + 4} stroke="#333" strokeWidth={0.9} />
          <text x={xs(t)} y={y1 + 8.5} dy="0.35em" textAnchor="middle" {...tickText}>{fmt(t)}</text>
        </g>
      ))}
      <g clipPath={`url(#${clipId})`}>
        {layers.map((layer, li) => (
          <path
            key={li}
            d={layer.pts.map(([code, x, y]) => shapePath(code, xs(x), ys(y))).join('')}
            fill="none"
            stroke={layer.color}
            strokeWidth={1.05}
            strokeOpacity={0.92}
          />
        ))}
      </g>
      <rect x={x0} y={y0} width={x1 - x0} height={y1 - y0} fill="none" stroke="#858585" strokeWidth={1.2} />
      <text x={x0 + 4.5} y={y0 + 14.5} fontFamily={FONT} fontSize={14} fontWeight="bold" fill="#000">{letter}</text>
    </g>
  );
}

function Legend() {
  const lx = 650;
  const tx = 661.7;
  return (
    <g fontFamily={FONT}>
      <text x={641.5} y={132} fontSize={12} fill="#1a1a1a">Region</text>
      {regionLabels.map((r, i) => (
        <g key={r}>
          <circle cx={lx} cy={146 + i * 17.8} r={3.2} fill={regionColors[i]} />
          <text x={tx} y={146 + i * 17.8} dy="0.35em" fontSize={10.4} fill="#1a1a1a">{r}</text>
        </g>
      ))}
      <text x={641.5} y={225} fontSize={12} fill="#1a1a1a">Province</text>
      {provinceLabels.map((p, i) => {
        const cy = 236.7 + i * 17.4;
        return (
          <g key={p}>
            <path d={shapePath(provinceCodes[i], lx, cy)} fill="none" stroke="#000" strokeWidth={0.9} />
            <text x={tx} y={cy} dy="0.35em" fontSize={10.4} fill="#1a1a1a">{p}</text>
          </g>
        );
      })}
    </g>
  );
}

export default function App() {
  return (
    <svg width={749} height={610} viewBox="0 0 749 610" style={{ display: 'block', position: 'absolute', left: 0, top: 0, background: '#fff' }}>
      <rect width={749} height={610} fill="#fff" />
      <BoxPanel col={0} row={0} data={boxA} groups={boxGroupsTop} colors={[RED, BOXGRAY]} domain={C_DOMAIN_TOP} ticks={C_TICKS_TOP} letter="a" iso="13" />
      <BoxPanel col={1} row={0} data={boxB} groups={boxGroupsTop} colors={[RED, BOXGRAY]} domain={N_DOMAIN} ticks={N_TICKS} letter="b" iso="15" />
      <ScatterPanel row={0} letter="c" layers={[{ pts: cYangtze, color: GRAY }, { pts: cLoess, color: RED }]} />
      <BoxPanel col={0} row={1} data={boxD} groups={boxGroupsTop} colors={[RED, BOXGRAY]} domain={C_DOMAIN_TOP} ticks={C_TICKS_TOP} letter="d" iso="13" />
      <BoxPanel col={1} row={1} data={boxE} groups={boxGroupsTop} colors={[RED, BOXGRAY]} domain={N_DOMAIN} ticks={N_TICKS} letter="e" iso="15" />
      <ScatterPanel row={1} letter="f" layers={[{ pts: fLoess, color: RED }, { pts: fYangtze, color: GRAY }]} />
      <BoxPanel col={0} row={2} data={boxG} groups={boxGroupsBottom} colors={[RED, BLUE]} domain={C_DOMAIN_BOTTOM} ticks={C_TICKS_BOTTOM} letter="g" iso="13" />
      <BoxPanel col={1} row={2} data={boxH} groups={boxGroupsBottom} colors={[RED, BLUE]} domain={N_DOMAIN} ticks={N_TICKS} letter="h" iso="15" />
      <ScatterPanel row={2} letter="i" layers={[{ pts: iContinental, color: BLUE }, { pts: iLoess, color: RED }, { pts: iContinentalTop, color: BLUE }]} />
      <text x={116.7} y={600} textAnchor="middle" fontFamily={FONT} fontSize={12} fill="#1a1a1a">Region</text>
      <text x={300} y={600} textAnchor="middle" fontFamily={FONT} fontSize={12} fill="#1a1a1a">Region</text>
      <text x={532} y={606.5} textAnchor="middle" fontFamily={FONT} fontSize={12} fill="#1a1a1a">
        <tspan>δ</tspan>
        <tspan dy={-4} fontSize={8.5}>13</tspan>
        <tspan dy={4}>C (‰)</tspan>
      </text>
      <Legend />
    </svg>
  );
}
